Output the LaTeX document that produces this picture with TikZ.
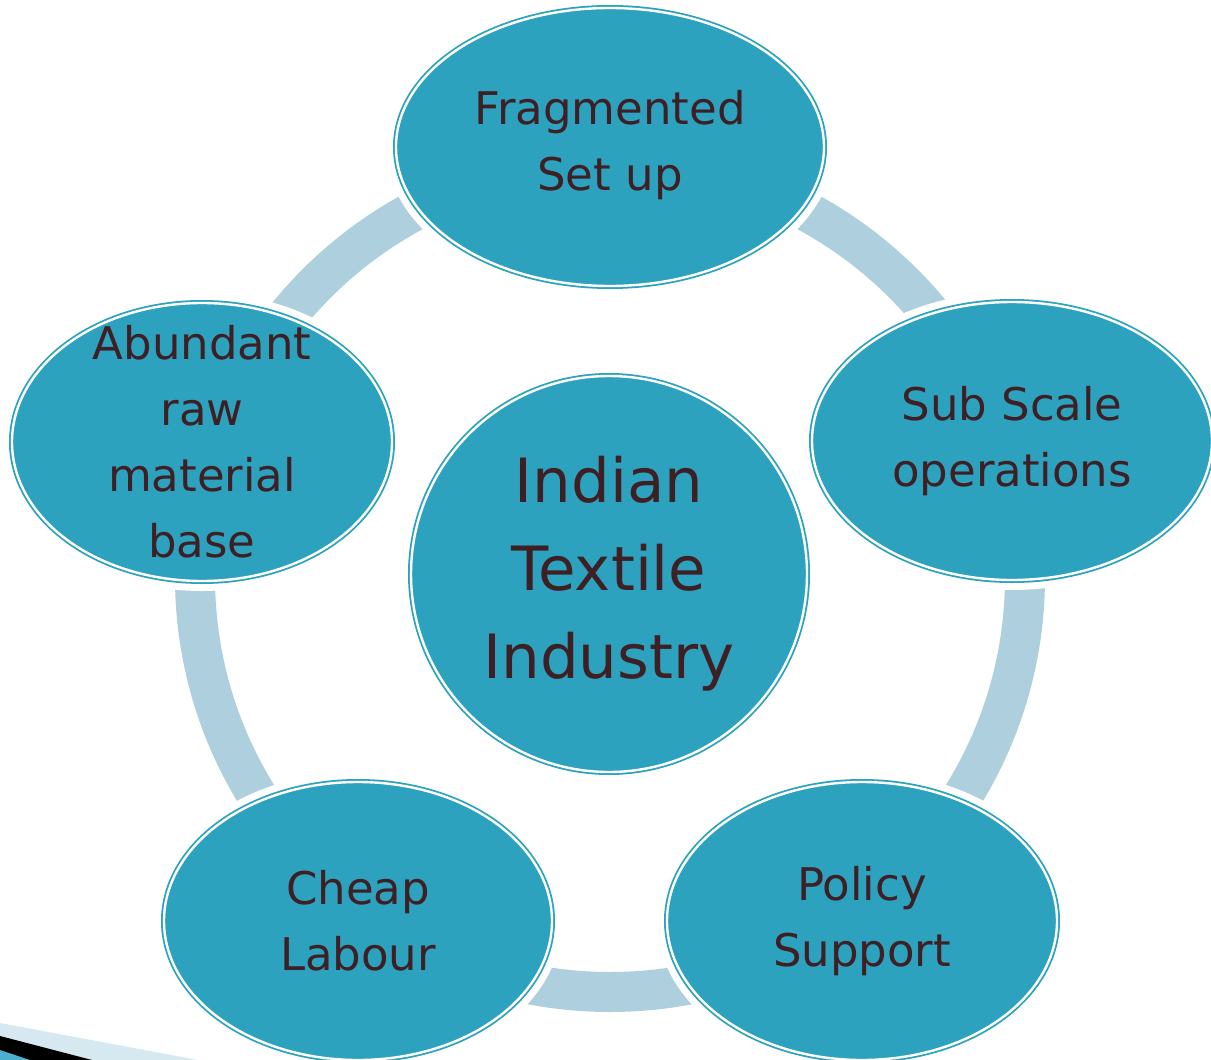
\documentclass[tikz,border=0pt]{standalone}
\usepackage{fontspec}
\setmainfont{DejaVu Sans}
\usetikzlibrary{shapes.geometric}
\definecolor{tealfill}{HTML}{2DA2BF}
\definecolor{txt}{HTML}{3D1F24}
\definecolor{band}{HTML}{AECFDD}
\definecolor{palecorner}{HTML}{D6E9F1}
\definecolor{cyancorner}{HTML}{4BAFD0}
\tikzset{
  petal/.style={ellipse, draw=tealfill, fill=tealfill, double=white, double distance=2.4pt, line width=1.8pt,
     inner sep=0pt, minimum height=278pt},
  petaltext/.style={text=txt, align=center, inner sep=0pt, font=\fontsize{45}{66}\selectfont},
  halo/.style={ellipse, draw=white, line width=20pt, inner sep=0pt, minimum height=278pt},
  hub/.style={circle, draw=tealfill, fill=tealfill, double=white, double distance=2.4pt, line width=1.8pt,
     inner sep=0pt, minimum size=396pt, text=txt, align=center, font=\fontsize{61}{88}\selectfont},
  ring/.style={draw=band, line width=40pt}
}
\begin{document}
\begin{tikzpicture}[x=1pt,y=-1pt]
\useasboundingbox (0,0) rectangle (1211,1060);
\fill[white] (0,0) rectangle (1211,1060);
% corner decoration
\fill[palecorner] (0,1023) -- (198,1060) -- (0,1060) -- cycle;
\fill[black] (0,1036) -- (92,1060) -- (0,1060) -- cycle;
\fill[cyancorner] (0,1050) -- (30,1060) -- (0,1060) -- cycle;
% ring
\coordinate (c) at (610,577);
\draw[ring] (c) circle[radius=415];
% halos
\foreach \p/\w in {{610,147}/428, {1012,441}/400, {202,442}/380, {358,921}/388, {862,921}/390}
  \node[halo, minimum width=\w pt] at (\p) {};
% nodes
\node[hub] (hubnode) at (609,574) {Indian\\Textile\\Industry};
\node[petal, minimum width=428pt] (frag) at (610,147) {};
\node[petal, minimum width=400pt] (sub) at (1012,441) {};
\node[petal, minimum width=380pt] (abund) at (202,442) {};
\node[petal, minimum width=388pt] (cheap) at (358,921) {};
\node[petal, minimum width=390pt] (policy) at (862,921) {};
\node[petaltext] (fragt) at ([yshift=2pt]frag.center) {Fragmented\\Set up};
\node[petaltext] (subt) at (sub.center) {Sub Scale\\operations};
\node[petaltext] (abundt) at (abund.center) {Abundant\\raw\\material\\base};
\node[petaltext] (cheapt) at (cheap.center) {Cheap\\Labour};
\node[petaltext] (policyt) at (policy.center) {Policy\\Support};
\end{tikzpicture}
\end{document}
